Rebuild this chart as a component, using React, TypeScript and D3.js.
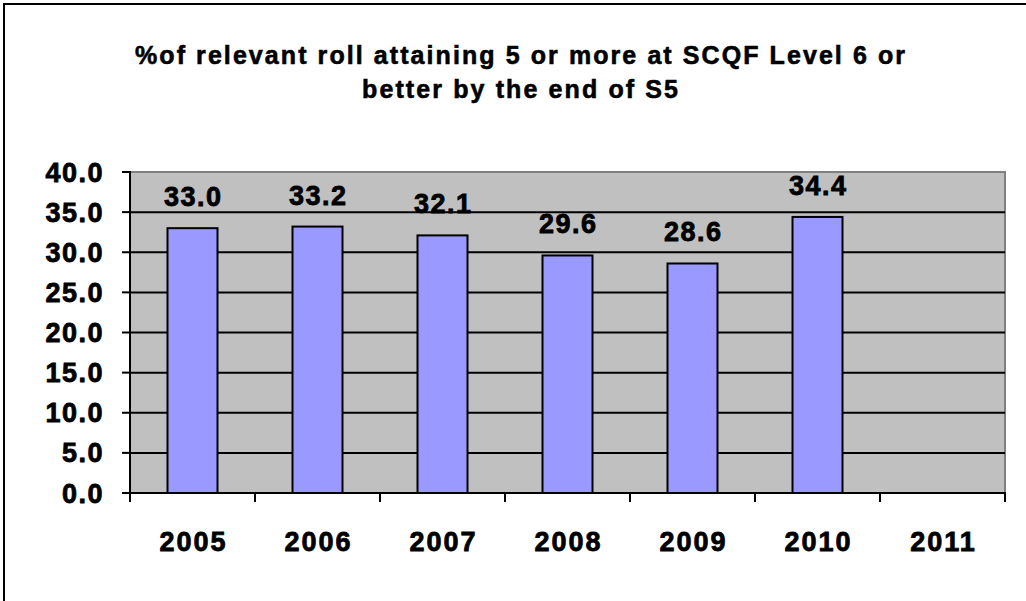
import React from "react";
import * as d3 from "d3";

const categories = ["2005", "2006", "2007", "2008", "2009", "2010", "2011"];
const values: (number | null)[] = [33.0, 33.2, 32.1, 29.6, 28.6, 34.4, null];
const yTicks = [0, 5, 10, 15, 20, 25, 30, 35, 40];
const titleLines = [
  "%of relevant roll attaining 5 or more at SCQF Level 6 or",
  "better by the end of S5",
];

const W = 1026;
const H = 601;
const plot = { left: 130, right: 1005, top: 172, bottom: 493 };
const FONT = "'Liberation Sans', Arial, Helvetica, sans-serif";
const heavy = { stroke: "#000", strokeWidth: 0.8 };

export default function App() {
  const x = d3
    .scaleBand<string>()
    .domain(categories)
    .range([plot.left, plot.right])
    .paddingInner(0)
    .paddingOuter(0);
  const y = d3.scaleLinear().domain([0, 40]).range([plot.bottom, plot.top]);
  const bw = x.bandwidth() * 0.4;
  const boundaries = categories.map((c) => x(c)!).concat([plot.right]);

  return (
    <svg
      width={W}
      height={H}
      style={{ position: "absolute", left: 0, top: 0, background: "#fff" }}
      fontFamily={FONT}
    >
      <rect x={0} y={0} width={W} height={H} fill="#fff" />
      {/* outer frame */}
      <rect x={4} y={4} width={W + 20} height={H + 20} fill="none" stroke="#000" strokeWidth={2} />

      {/* title */}
      <text x={520} y={64} fontSize={25} fontWeight="bold" textAnchor="middle" textLength={770} lengthAdjust="spacing" {...heavy} strokeWidth={0.6}>
        {titleLines[0]}
      </text>
      <text x={520} y={98} fontSize={25} fontWeight="bold" textAnchor="middle" textLength={316} lengthAdjust="spacing" {...heavy} strokeWidth={0.6}>
        {titleLines[1]}
      </text>

      {/* plot area */}
      <rect
        x={plot.left}
        y={plot.top}
        width={plot.right - plot.left}
        height={plot.bottom - plot.top}
        fill="#C0C0C0"
        stroke="#808080"
        strokeWidth={2}
      />

      {/* gridlines */}
      {yTicks
        .filter((t) => t > 0 && t < 40)
        .map((t) => (
          <line key={"g" + t} x1={plot.left} x2={plot.right} y1={y(t)} y2={y(t)} stroke="#000" strokeWidth={2} />
        ))}

      {/* bars */}
      {categories.map((c, i) => {
        const v = values[i];
        if (v == null) return null;
        const cx = x(c)! + x.bandwidth() / 2;
        return (
          <g key={"b" + c}>
            <rect x={cx - bw / 2} y={y(v)} width={bw} height={plot.bottom - y(v)} fill="#9999FF" stroke="#000" strokeWidth={2} />
            <text x={cx + 0.75} y={y(v) - 22} fontSize={27} fontWeight="bold" textAnchor="middle" letterSpacing={1.5} {...heavy}>
              {v.toFixed(1)}
            </text>
          </g>
        );
      })}

      {/* axes */}
      <line x1={plot.left} x2={plot.left} y1={plot.top - 1} y2={plot.bottom} stroke="#000" strokeWidth={2} />
      <line x1={plot.left - 8} x2={plot.right + 1} y1={plot.bottom} y2={plot.bottom} stroke="#000" strokeWidth={2} />
      {yTicks.map((t) => (
        <g key={"yt" + t}>
          <line x1={plot.left - 8} x2={plot.left} y1={y(t)} y2={y(t)} stroke="#000" strokeWidth={2} />
          <text x={104} y={y(t) + 9.5} fontSize={27} fontWeight="bold" textAnchor="end" letterSpacing={1.5} {...heavy}>
            {t.toFixed(1)}
          </text>
        </g>
      ))}
      {boundaries.map((b, i) => (
        <line key={"xt" + i} x1={b} x2={b} y1={plot.bottom} y2={plot.bottom + 9} stroke="#000" strokeWidth={2} />
      ))}
      {categories.map((c) => (
        <text
          key={"xl" + c}
          x={x(c)! + x.bandwidth() / 2 + 1}
          y={551}
          fontSize={27}
          fontWeight="bold"
          textAnchor="middle"
          letterSpacing={2}
          {...heavy}
        >
          {c}
        </text>
      ))}
    </svg>
  );
}
